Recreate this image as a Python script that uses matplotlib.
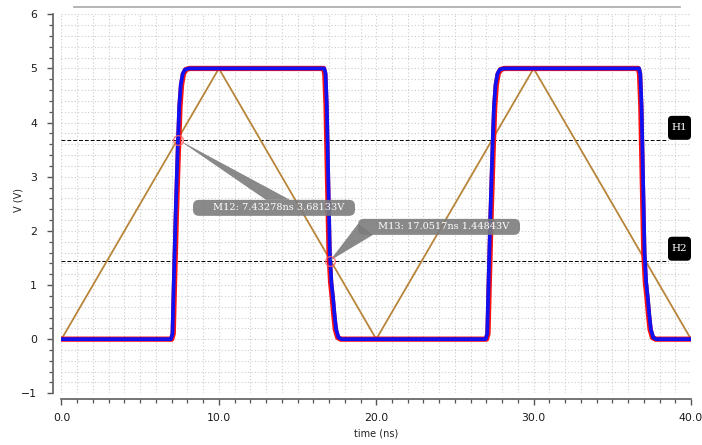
import matplotlib
matplotlib.use("Agg")
import matplotlib.pyplot as plt
from matplotlib.patches import FancyBboxPatch, Polygon
from matplotlib.lines import Line2D
from matplotlib.ticker import MultipleLocator, FixedLocator

# ---------------- data ----------------
t_tri = [0.0, 10.0, 20.0, 30.0, 40.0]
v_tri = [0.0, 5.0, 0.0, 5.0, 0.0]

t_blue = [0.0, 6.95, 7.05, 7.12, 7.25, 7.38, 7.48, 7.58, 7.70, 7.85, 8.10,
          16.70, 16.78, 16.86, 16.95, 17.05, 17.15, 17.26, 17.35, 17.45, 17.60, 17.80,
          26.95, 27.05, 27.12, 27.25, 27.38, 27.48, 27.58, 27.70, 27.85, 28.10,
          36.70, 36.78, 36.86, 36.95, 37.05, 37.15, 37.26, 37.35, 37.45, 37.60, 37.80,
          40.0]
v_blue = [0.0, 0.0, 0.10, 0.90, 2.30, 3.50, 4.30, 4.70, 4.90, 4.98, 5.0,
          5.0, 4.90, 4.30, 3.00, 1.60, 1.05, 0.75, 0.45, 0.18, 0.03, 0.0,
          0.0, 0.10, 0.90, 2.30, 3.50, 4.30, 4.70, 4.90, 4.98, 5.0,
          5.0, 4.90, 4.30, 3.00, 1.60, 1.05, 0.75, 0.45, 0.18, 0.03, 0.0,
          0.0]

t_red = [0.0, 7.00, 7.10, 7.17, 7.30, 7.43, 7.53, 7.63, 7.75, 7.90, 8.15,
         16.65, 16.73, 16.81, 16.90, 17.00, 17.10, 17.21, 17.30, 17.40, 17.55, 17.75,
         27.00, 27.10, 27.17, 27.30, 27.43, 27.53, 27.63, 27.75, 27.90, 28.15,
         36.65, 36.73, 36.81, 36.90, 37.00, 37.10, 37.21, 37.30, 37.40, 37.55, 37.75,
         40.0]
v_red = v_blue

h_levels = [3.68133, 1.44843]
h_names = ["H1", "H2"]

marker_t = [7.43278, 17.0517]
marker_v = [3.68133, 1.44843]
marker_text = ["M12: 7.43278ns 3.68133V", "M13: 17.0517ns 1.44843V"]

x_ticks = [0, 10, 20, 30, 40]
x_ticklabels = ["0.0", "10.0", "20.0", "30.0", "40.0"]
y_ticks = [-1, 0, 1, 2, 3, 4, 5, 6]

# ---------------- figure ----------------
W, H = 702, 445
fig = plt.figure(figsize=(W / 100, H / 100), dpi=100)
ax = fig.add_axes([61.5 / W, (H - 393.3) / H, 629.5 / W, 379.0 / H])
ax.set_xlim(0, 40)
ax.set_ylim(-1, 6)

px_per_x = 629.5 / 40.0
px_per_y = 379.0 / 7.0

for s in ["top", "right"]:
    ax.spines[s].set_visible(False)
ax.spines["left"].set_position(("outward", 6.1))
ax.spines["bottom"].set_position(("outward", 4.3))
for s in ["left", "bottom"]:
    ax.spines[s].set_color("#6a6a6a")
    ax.spines[s].set_linewidth(1.3)

ax.xaxis.set_major_locator(FixedLocator(x_ticks))
ax.set_xticklabels(x_ticklabels)
ax.xaxis.set_minor_locator(MultipleLocator(1))
ax.yaxis.set_major_locator(FixedLocator(y_ticks))
ax.yaxis.set_minor_locator(MultipleLocator(0.2))
ax.tick_params(which="major", direction="out", length=4.5, width=1.0, color="#555555",
               labelsize=7.8, labelcolor="#1a1a1a")
ax.tick_params(which="minor", direction="out", length=2.6, width=0.9, color="#555555")
ax.tick_params(axis="y", which="major", pad=7)
ax.tick_params(axis="x", which="major", pad=5.5)

ax.grid(which="both", color="#cccccc", linestyle=(0, (1, 2)), linewidth=0.8)
ax.set_axisbelow(True)

ax.set_xlabel("time (ns)", fontsize=7, labelpad=4, color="#222222")
ax.set_ylabel("V (V)", fontsize=7, color="#222222")
ax.yaxis.set_label_coords((24 - 61.5) / 629.5, (393.3 - 200) / 379.0)

# horizontal cursor lines
for lev in h_levels:
    ax.plot([0, (668 - 61.5) / px_per_x], [lev, lev], color="black",
            linestyle=(0, (4, 2)), linewidth=0.7, zorder=2)

# traces
ax.plot(t_tri, v_tri, color="#b8853a", linewidth=1.3, zorder=3)
ax.plot(t_red, v_red, color="#ff1010", linewidth=3.8, zorder=4, solid_joinstyle="round")
ax.plot(t_blue, v_blue, color="#1010f0", linewidth=2.7, zorder=5, solid_joinstyle="round")

# H labels (black rounded boxes, bottom at line)
aspect = px_per_x / px_per_y
for lev, name in zip(h_levels, h_names):
    x0 = (668 - 61.5) / px_per_x
    w = 23 / px_per_x
    h = 24 / px_per_y
    box = FancyBboxPatch((x0, lev), w, h,
                         boxstyle="round,pad=0,rounding_size=%f" % (4 / px_per_x),
                         mutation_aspect=aspect, fc="black", ec="none",
                         zorder=7, clip_on=False)
    ax.add_patch(box)
    ax.text(x0 + w / 2, lev + h / 2, name, color="white", fontsize=7.5,
            family="DejaVu Serif", ha="center", va="center", zorder=8, clip_on=False)

# marker callouts
def px2d(px, py):
    return ((px - 61.5) / px_per_x, (339.3 - py) / px_per_y)

boxes = [((193, 200), (355, 216)), ((358, 219), (520, 235))]
wedges = [[(266, 200), (290, 200)], [(358, 224), (373, 235)]]
for mt, mv, txt, (p0, p1), wb in zip(marker_t, marker_v, marker_text, boxes, wedges):
    bx0, by1 = px2d(*p0)
    bx1, by0 = px2d(*p1)
    b1 = px2d(*wb[0])
    b2 = px2d(*wb[1])
    poly = Polygon([(mt, mv), b1, b2], closed=True, fc="#7c7c7c", ec="none",
                   alpha=0.9, zorder=8)
    ax.add_patch(poly)
    box = FancyBboxPatch((bx0, by0), bx1 - bx0, by1 - by0,
                         boxstyle="round,pad=0,rounding_size=%f" % (6 / px_per_x),
                         mutation_aspect=aspect, fc="#7c7c7c", ec="none",
                         alpha=0.9, zorder=8)
    ax.add_patch(box)
    ax.text((bx0 + bx1) / 2 + 0.3, (by0 + by1) / 2, txt, color="white", fontsize=7,
            family="DejaVu Serif", ha="center", va="center", zorder=9)
    ax.plot([mt], [mv], "o", mfc="none", mec="#ff6060", ms=7, mew=1.0,
            alpha=0.8, zorder=9)

# top decorative line
fig.add_artist(Line2D([74 / W, 680 / W], [1 - 7.3 / H] * 2, color="#a8a8a8", lw=1.2))

fig.savefig("out.png", dpi=100)
